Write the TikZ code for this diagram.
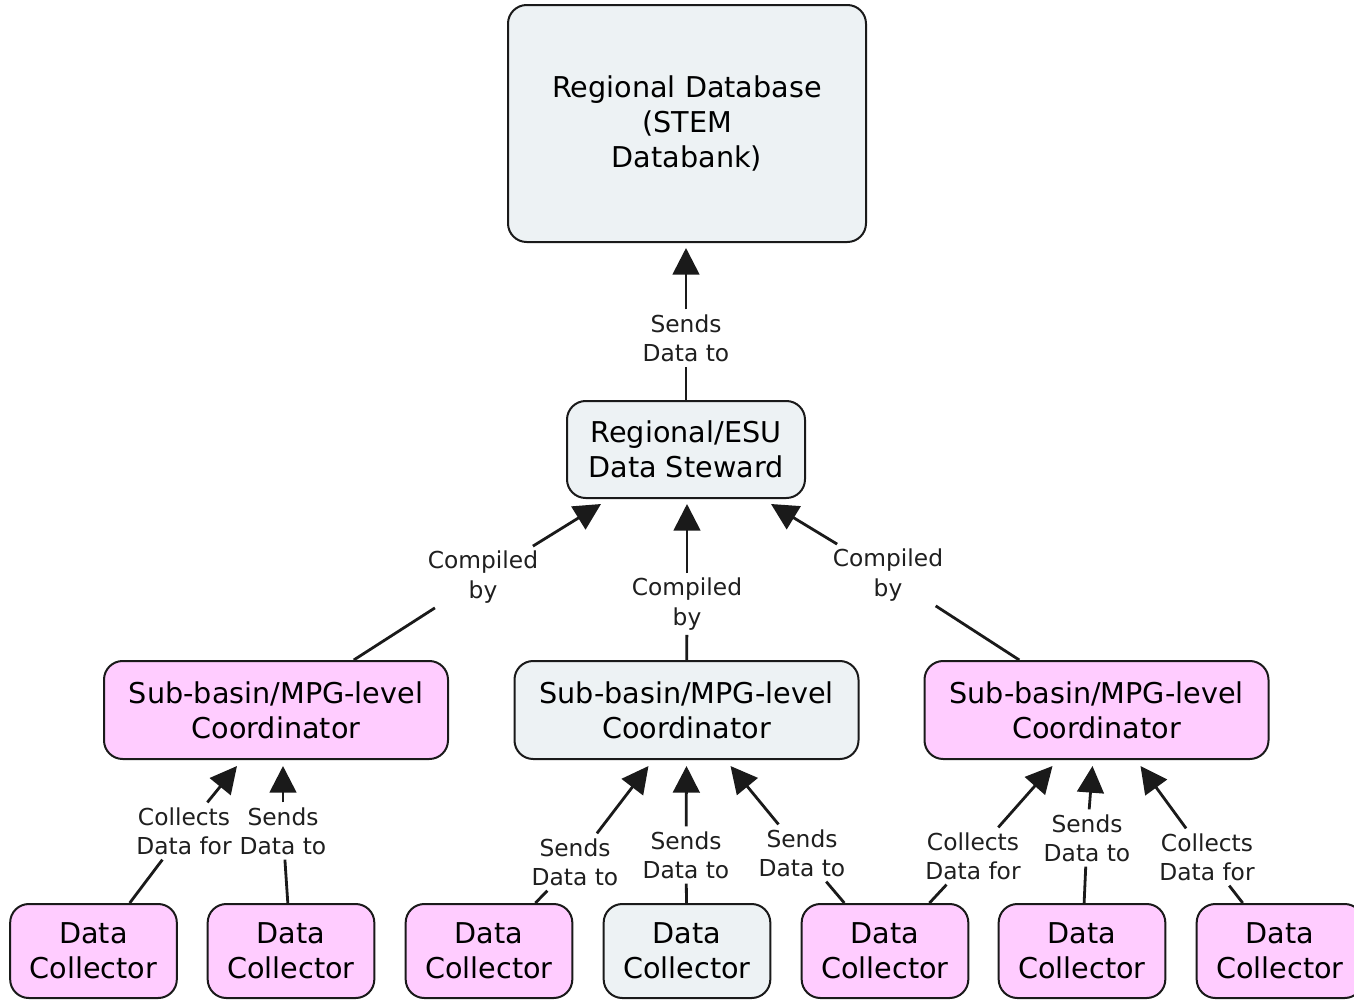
\documentclass[tikz,border=0pt]{standalone}
\usepackage{fontspec}
\setmainfont{DejaVu Sans}
\usetikzlibrary{arrows.meta,calc}
\definecolor{pinkfill}{HTML}{FFCCFF}
\definecolor{grayfill}{HTML}{EDF2F4}
\definecolor{edge}{HTML}{1A1A1A}
\begin{document}
\begin{tikzpicture}[x=0.75pt,y=-0.75pt,
  box/.style={draw=edge,line width=1.5pt,rounded corners=14pt,align=center,
    font=\fontsize{21.5pt}{26.3pt}\selectfont,inner sep=0pt},
  pinkbox/.style={box,fill=pinkfill},
  graybox/.style={box,fill=grayfill},
  coordbox/.style={minimum width=258pt,minimum height=73.5pt},
  collbox/.style={minimum width=125pt,minimum height=70.5pt},
  lab/.style={align=center,font=\fontsize{17.5pt}{22pt}\selectfont,inner sep=3.5pt,text=black!88},
  conn/.style={draw=edge,line width=2.1pt},
  arr/.style={conn,-{Triangle[length=20pt,width=20pt]}}]
\useasboundingbox (0,0) rectangle (1354,1000);
\fill[white] (0,0) rectangle (1354,1000);

% main boxes
\node[graybox,minimum width=268.5pt,minimum height=177.75pt] (db) at (687,123.5) {Regional Database\\(STEM\\Databank)};
\node[graybox,minimum width=178.5pt,minimum height=72.75pt] (st) at (686,449.5) {Regional/ESU\\Data Steward};
\node[pinkbox,coordbox] (cL) at (276,710) {Sub-basin/MPG-level\\Coordinator};
\node[graybox,coordbox] (cM) at (686.5,710) {Sub-basin/MPG-level\\Coordinator};
\node[pinkbox,coordbox] (cR) at (1096.5,710) {Sub-basin/MPG-level\\Coordinator};

\node[pinkbox,collbox] (d1) at (93.5,951) {Data\\Collector};
\node[pinkbox,collbox] (d2) at (291,951) {Data\\Collector};
\node[pinkbox,collbox] (d3) at (489,951) {Data\\Collector};
\node[graybox,collbox] (d4) at (687,951) {Data\\Collector};
\node[pinkbox,collbox] (d5) at (885,951) {Data\\Collector};
\node[pinkbox,collbox] (d6) at (1082,951) {Data\\Collector};
\node[pinkbox,collbox] (d7) at (1280,951) {Data\\Collector};

% labels
\node[lab] (lSD) at (686,338) {Sends\\Data to};
\node[lab] (lC1) at (483,577) {Compiled\\by};
\node[lab] (lC2) at (687,604) {Compiled\\by};
\node[lab] (lC3) at (888,575) {Compiled\\by};
\node[lab] (la1) at (184,831) {Collects\\Data for};
\node[lab] (la2) at (283,831) {Sends\\Data to};
\node[lab] (lb1) at (575,862) {Sends\\Data to};
\node[lab] (lb2) at (686,855) {Sends\\Data to};
\node[lab] (lb3) at (802,853) {Sends\\Data to};
\node[lab] (lc1) at (973,856) {Collects\\Data for};
\node[lab] (lc2) at (1087,838) {Sends\\Data to};
\node[lab] (lc3) at (1207,857) {Collects\\Data for};

% connectors: source -> label
\draw[conn] (st) -- (lSD);
\draw[conn] (cL) -- (lC1);
\draw[conn] (cM) -- (lC2);
\draw[conn] (cR) -- (lC3);
\draw[conn] (d1) -- (la1);
\draw[conn] (d2) -- (la2);
\draw[conn] (d3) -- (lb1);
\draw[conn] (d4) -- (lb2);
\draw[conn] (d5) -- (lb3);
\draw[conn] (d5) -- (lc1);
\draw[conn] (d6) -- (lc2);
\draw[conn] (d7) -- (lc3);

% connectors: label -> target
\draw[arr] (lSD) -- ($(db.south)+(-1,5)$);
\draw[arr] (lC1) -- ($(st.south west)+(35,5)$);
\draw[arr] (lC2) -- ($(st.south)+(1,5)$);
\draw[arr] (lC3) -- ($(st.south east)+(-35,5)$);
\draw[arr] (la1) -- ($(cL.south)+(-39,6)$);
\draw[arr] (la2) -- ($(cL.south)+(7,6)$);
\draw[arr] (lb1) -- ($(cM.south)+(-38,6)$);
\draw[arr] (lb2) -- ($(cM.south)+(0,6)$);
\draw[arr] (lb3) -- ($(cM.south)+(44,6)$);
\draw[arr] (lc1) -- ($(cR.south)+(-44,6)$);
\draw[arr] (lc2) -- ($(cR.south)+(-4,6)$);
\draw[arr] (lc3) -- ($(cR.south)+(44,6)$);
\end{tikzpicture}
\end{document}
